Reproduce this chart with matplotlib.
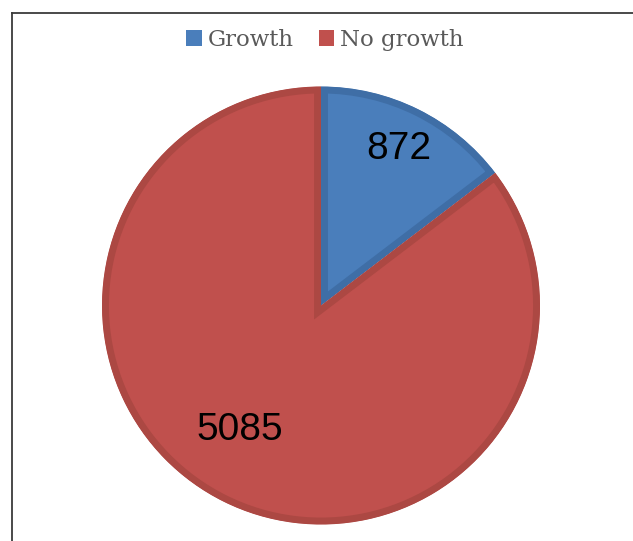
#gráfico de pastel: crecimiento / sin crecimiento
import numpy as np
import matplotlib
matplotlib.use('Agg')
import matplotlib.pyplot as plt
from matplotlib.lines import Line2D
from matplotlib.patches import Patch, Wedge

#datos
categorias = ['Growth', 'No growth']
valores = [872, 5085]
colores = ['#4A7EBB', '#C0504D']
bordes = ['#3F6EA6', '#AC4843']

W, H = 633, 541
fig = plt.figure(figsize=(W/100, H/100), dpi=100)

#ejes del pastel (centro ~ (321,305) px, radio ~ 219 px)
cx, cy, r = 321, 305.5, 219
ax = fig.add_axes([(cx-r)/W, (H-cy-r)/H, 2*r/W, 2*r/H])
wedges, _ = ax.pie(valores, colors=colores, startangle=90, counterclock=False,
                   radius=1.0, wedgeprops=dict(linewidth=0))
ax.set_xlim(-1, 1)
ax.set_ylim(-1, 1)
ax.set_aspect('equal')
ax.axis('off')

#borde interior más oscuro (trazo recortado por la propia cuña)
for w, b in zip(wedges, bordes):
    clip = Wedge(w.center, w.r, w.theta1, w.theta2, transform=ax.transData)
    w.set_edgecolor(b)
    w.set_linewidth(10)
    w.set_joinstyle('miter')
    w.set_clip_on(True)
    w.set_clip_path(clip)

#etiquetas de valores
pos = [(63.6, 0.80), (237.0, 0.68)]
for v, (ang, d) in zip(valores, pos):
    a = np.deg2rad(ang)
    ax.text(d*np.cos(a), d*np.sin(a), str(v), ha='center', va='center',
            fontsize=28, family='Liberation Sans', color='black')

#leyenda
handles = [Patch(facecolor=c, edgecolor='none') for c in colores]
fig.legend(handles, categorias, loc='center', bbox_to_anchor=(325/W, 1-40/H),
           ncol=2, frameon=False, prop=dict(family='DejaVu Serif', size=16.5),
           labelcolor='#595959', handlelength=0.68, handleheight=0.68,
           handletextpad=0.25, columnspacing=1.1)

#marco (solo izquierda y arriba)
fig.add_artist(Line2D([12/W, 12/W], [0, 1-13/H], color='#3a3a3a', lw=1.3))
fig.add_artist(Line2D([12/W, 1], [1-13/H, 1-13/H], color='#3a3a3a', lw=1.3))

fig.savefig('out.png', dpi=100)
